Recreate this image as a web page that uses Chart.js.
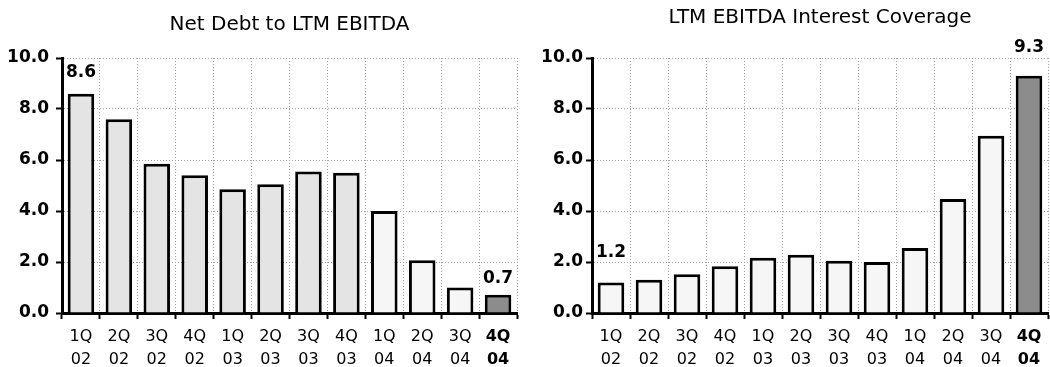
<!DOCTYPE html>
<html>
<head>
<meta charset="utf-8">
<script src="https://cdn.jsdelivr.net/npm/chart.js@4.4.1/dist/chart.umd.min.js"></script>
<style>
  html, body { margin: 0; padding: 0; background: #fff; }
  .wrap { position: absolute; top: 0; width: 525px; height: 367px; }
</style>
</head>
<body>
<div class="wrap" style="left:0"><canvas id="debtChart" width="525" height="367"></canvas></div>
<div class="wrap" style="left:525px"><canvas id="coverageChart" width="525" height="367"></canvas></div>
<script>
// data
const quarters = ["1Q", "2Q", "3Q", "4Q", "1Q", "2Q", "3Q", "4Q", "1Q", "2Q", "3Q", "4Q"];
const years = ["02", "02", "02", "02", "03", "03", "03", "03", "04", "04", "04", "04"];
const netDebtToEbitda = [8.6, 7.6, 5.85, 5.4, 4.85, 5.05, 5.55, 5.5, 4.0, 2.07, 1.0, 0.72];
const interestCoverage = [1.2, 1.3, 1.52, 1.83, 2.17, 2.28, 2.05, 2.0, 2.55, 4.47, 6.95, 9.3];
const yMin = 0;
const yMax = 10;
const yStep = 2;

const FONT = "'DejaVu Sans', Verdana, sans-serif";
const labels = quarters.map((q, i) => [q, years[i]]);

// value labels over the first and last bar
const endLabels = {
  id: "endLabels",
  afterDatasetsDraw(chart, args, opts) {
    const ctx = chart.ctx;
    const meta = chart.getDatasetMeta(0);
    const data = chart.data.datasets[0].data;
    const idx = [0, data.length - 1];
    ctx.save();
    ctx.font = "bold 17px " + FONT;
    ctx.fillStyle = "#000";
    ctx.textAlign = "center";
    ctx.textBaseline = "bottom";
    idx.forEach((i, k) => {
      const bar = meta.data[i];
      ctx.fillText(data[i].toFixed(1), bar.x, bar.y - opts.gaps[k]);
    });
    ctx.restore();
  }
};

function makeChart(id, title, values, colors, cfg) {
  return new Chart(document.getElementById(id), {
    type: "bar",
    data: {
      labels,
      datasets: [{
        data: values,
        backgroundColor: colors,
        borderColor: "#000",
        borderWidth: 3,
        categoryPercentage: 1,
        barPercentage: 0.7
      }]
    },
    options: {
      responsive: false,
      animation: false,
      devicePixelRatio: 1,
      layout: { padding: { left: 0, right: cfg.rightPad, top: 0, bottom: 0 } },
      plugins: {
        legend: { display: false },
        tooltip: { enabled: false },
        title: {
          display: true,
          text: title,
          fullSize: false,
          color: "#000",
          font: { family: FONT, size: 20, weight: "normal" },
          padding: { top: cfg.titleTop, bottom: cfg.titleBottom }
        },
        endLabels: { gaps: cfg.labelGaps }
      },
      scales: {
        x: {
          grid: {
            color: "#a0a0a0",
            lineWidth: 1,
            tickColor: "#000",
            tickWidth: 2,
            tickLength: 6,
            tickBorderDash: []
          },
          border: { display: true, color: "#000", width: 3, dash: [1, 2] },
          ticks: {
            color: "#000",
            padding: 7,
            maxRotation: 0,
            autoSkip: false,
            font: ctx => ({ family: FONT, size: 16, lineHeight: 1.4, weight: ctx.index === 11 ? "bold" : "normal" })
          },
          afterFit(scale) { scale.height = 54; }
        },
        y: {
          min: yMin,
          max: yMax,
          grid: {
            color: "#a0a0a0",
            lineWidth: 1,
            tickColor: "#000",
            tickWidth: 2,
            tickLength: 6,
            tickBorderDash: []
          },
          border: { display: true, color: "#000", width: 3, dash: [1, 2] },
          ticks: {
            stepSize: yStep,
            color: "#000",
            padding: cfg.tickPad,
            font: { family: FONT, size: 17, weight: "bold" },
            callback: v => Number(v).toFixed(1)
          },
          afterFit(scale) { scale.width = cfg.yWidth; }
        }
      }
    },
    plugins: [endLabels]
  });
}

const light = "#e4e4e4", pale = "#f6f6f6", dark = "#8c8c8c";

makeChart("debtChart", "Net Debt to LTM EBITDA", netDebtToEbitda,
  netDebtToEbitda.map((v, i) => i === 11 ? dark : (i < 8 ? light : pale)),
  { rightPad: 8, titleTop: 12.5, titleBottom: 21.5, yWidth: 62, tickPad: 7, labelGaps: [13, 8] });

makeChart("coverageChart", "LTM EBITDA Interest Coverage", interestCoverage,
  interestCoverage.map((v, i) => i === 11 ? dark : pale),
  { rightPad: 2, titleTop: 5.5, titleBottom: 28.5, yWidth: 67, tickPad: 3, labelGaps: [21, 20] });
</script>
</body>
</html>
